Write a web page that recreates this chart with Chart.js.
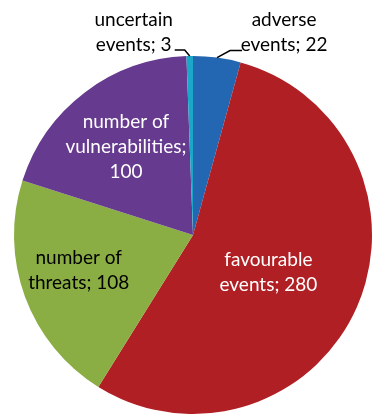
<!DOCTYPE html>
<html lang="en">
<head>
  <meta charset="UTF-8" />
  <title>Events pie</title>
  <script src="https://cdn.jsdelivr.net/npm/chart.js"></script>
  <style>
    html, body {
      margin: 0;
      padding: 0;
      background: #fff;
    }
    #wrap {
      width: 373px;
      height: 414px;
    }
  </style>
</head>
<body>
  <div id="wrap"><canvas id="pieChart"></canvas></div>

  <script>
    // Data (clockwise from 12 o'clock)
    const labels = ['adverse events', 'favourable events', 'number of threats', 'number of vulnerabilities', 'uncertain events'];
    const values = [22, 280, 108, 100, 3];
    const colors = ['#2366b2', '#b01f24', '#8aae43', '#663a8f', '#1ba7c8'];

    // label lines as drawn in the picture
    const labelLines = [
      ['adverse', 'events; 22'],
      ['favourable', 'events; 280'],
      ['number of', 'threats; 108'],
      ['number of', 'vulnerabilities;', '100'],
      ['uncertain', 'events; 3']
    ];

    // where each label sits: inside (fraction of radius) or outside with a leader
    const labelStyle = [
      { outside: true, dx: 67, y: 20, color: '#000', lead: [[13, -7], [25, -7]] },
      { r: 0.46, dy: 4, color: '#fff' },
      { r: 0.68, dy: -7, color: '#000' },
      { r: 0.62, dy: 0, color: '#fff' },
      { outside: true, dx: -56, y: 20, color: '#000', lead: [[-5, -6], [-15, -6]] }
    ];

    const pieLabels = {
      id: 'pieLabels',
      afterDatasetsDraw(chart) {
        const ctx = chart.ctx;
        const meta = chart.getDatasetMeta(0);
        ctx.save();
        ctx.font = '19px Lato, "Open Sans", sans-serif';
        ctx.textAlign = 'center';
        ctx.textBaseline = 'middle';
        meta.data.forEach((arc, i) => {
          const p = arc.getProps(['x', 'y', 'startAngle', 'endAngle', 'outerRadius']);
          const mid = (p.startAngle + p.endAngle) / 2;
          const st = labelStyle[i];
          const lines = labelLines[i];
          let lx, ly;
          if (st.outside) {
            const ex = p.x + Math.cos(mid) * p.outerRadius;
            const ey = p.y + Math.sin(mid) * p.outerRadius;
            ctx.strokeStyle = '#000';
            ctx.lineWidth = 1.5;
            ctx.beginPath();
            ctx.moveTo(ex, ey);
            st.lead.forEach(pt => ctx.lineTo(ex + pt[0], ey + pt[1]));
            ctx.stroke();
            lx = ex + st.dx;
            ly = st.y + 12.5 * (lines.length - 1);
          } else {
            lx = p.x + Math.cos(mid) * p.outerRadius * st.r;
            ly = p.y + Math.sin(mid) * p.outerRadius * st.r + st.dy;
          }
          ctx.fillStyle = st.color;
          const lh = 25;
          const top = ly - lh * (lines.length - 1) / 2;
          lines.forEach((t, k) => ctx.fillText(t, lx, top + k * lh));
        });
        ctx.restore();
      }
    };

    new Chart(document.getElementById('pieChart'), {
      type: 'pie',
      data: {
        labels: labels,
        datasets: [{
          data: values,
          backgroundColor: colors,
          borderWidth: 0
        }]
      },
      options: {
        responsive: true,
        maintainAspectRatio: false,
        animation: false,
        layout: { padding: { left: 13, top: 56, right: 0, bottom: 0 } },
        plugins: {
          legend: { display: false },
          tooltip: { enabled: false }
        }
      },
      plugins: [pieLabels]
    });
  </script>
</body>
</html>
